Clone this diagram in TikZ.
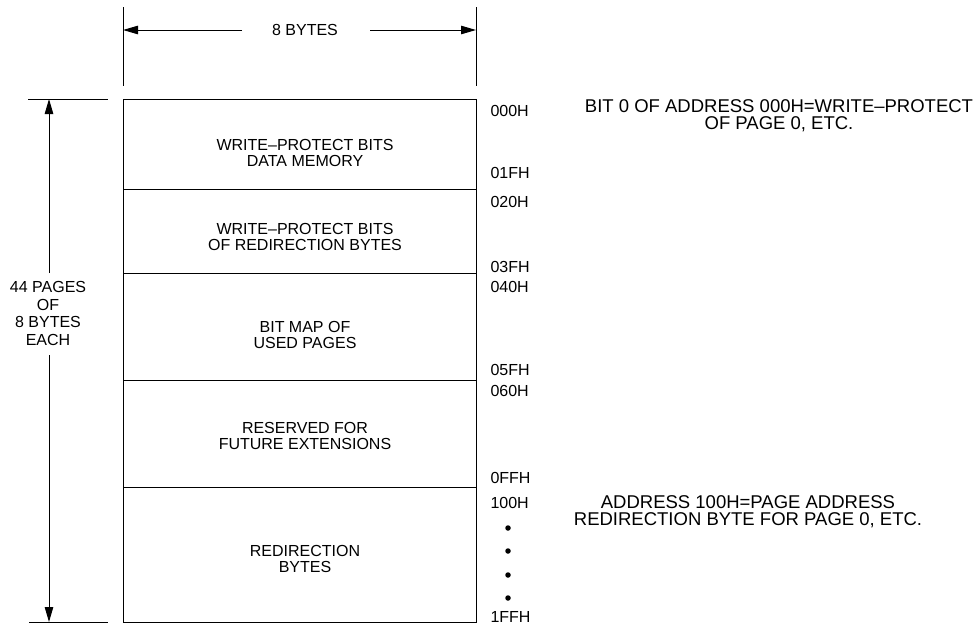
\documentclass[tikz,border=0pt]{standalone}
\usepackage{fontspec}
\setmainfont{Liberation Sans}
\usetikzlibrary{arrows.meta}
\begin{document}
\begin{tikzpicture}[x=1pt, y=-1pt, line width=1pt,
  dimarrow/.style={-{Triangle[length=15pt,width=8.5pt]}},
  addr/.style={anchor=west, inner sep=0pt, font=\fontsize{16}{16}\selectfont},
  areatext/.style={align=center, inner sep=0pt, font=\fontsize{16}{15.5}\selectfont},
  notetext/.style={align=center, inner sep=0pt, font=\fontsize{18.5}{17}\selectfont},
  dimtext/.style={align=center, inner sep=0pt, font=\fontsize{16}{17.7}\selectfont},
  dotmark/.style={circle, fill=black, inner sep=0pt, minimum size=5.5pt}]
\useasboundingbox (0,0) rectangle (978,629);

% memory block and its area boundaries
\draw (123,99) rectangle (476,622);
\draw (123,189) -- (476,189);
\draw (123,273) -- (476,273);
\draw (123,380) -- (476,380);
\draw (123,487) -- (476,487);

% area labels
\node[areatext] (wpdata)  at (305,153) {WRITE–PROTECT BITS\\DATA MEMORY};
\node[areatext] (wpredir) at (305,237) {WRITE–PROTECT BITS\\OF REDIRECTION BYTES};
\node[areatext] (bitmap)  at (305,335) {BIT MAP OF\\USED PAGES};
\node[areatext] (reserved) at (305,436) {RESERVED FOR\\FUTURE EXTENSIONS};
\node[areatext] (redir)   at (305,559) {REDIRECTION\\BYTES};

% width dimension
\draw (123,7) -- (123,86);
\draw (476,7) -- (476,86);
\coordinate (wl) at (123,30);
\coordinate (wr) at (476,30);
\coordinate (wgl) at (242,30);
\coordinate (wgr) at (370,30);
\node[inner sep=0pt, font=\fontsize{16}{16}\selectfont] (width) at (305,30) {8 BYTES};
\draw[dimarrow] (wgl) -- (wl);
\draw[dimarrow] (wgr) -- (wr);

% height dimension
\draw (28,99) -- (108,99);
\draw (29,622) -- (108,622);
\coordinate (ht) at (49,99);
\coordinate (hb) at (49,622);
\coordinate (hgt) at (49,273);
\coordinate (hgb) at (49,355);
\node[dimtext] (height) at (48,313.5) {44 PAGES\\OF\\8 BYTES\\EACH};
\draw[dimarrow] (hgt) -- (ht);
\draw[dimarrow] (hgb) -- (hb);

% addresses
\node[addr] (a000) at (490,111) {000H};
\node[addr] (a01f) at (490,173) {01FH};
\node[addr] (a020) at (490,202) {020H};
\node[addr] (a03f) at (490,267) {03FH};
\node[addr] (a040) at (490,287) {040H};
\node[addr] (a05f) at (490,370) {05FH};
\node[addr] (a060) at (490,391) {060H};
\node[addr] (a0ff) at (490,478) {0FFH};
\node[addr] (a100) at (490,503) {100H};
\node[addr] (a1ff) at (490,617) {1FFH};
\node[dotmark] (d1) at (508,528) {};
\node[dotmark] (d2) at (508,551) {};
\node[dotmark] (d3) at (508,575) {};
\node[dotmark] (d4) at (508,598) {};

% notes
\node[notetext] (notewp) at (779,115.5) {BIT 0 OF ADDRESS 000H=WRITE–PROTECT\\OF PAGE 0, ETC.};
\node[notetext] (noteredir) at (748,511.5) {ADDRESS 100H=PAGE ADDRESS\\REDIRECTION BYTE FOR PAGE 0, ETC.};
\end{tikzpicture}
\end{document}
